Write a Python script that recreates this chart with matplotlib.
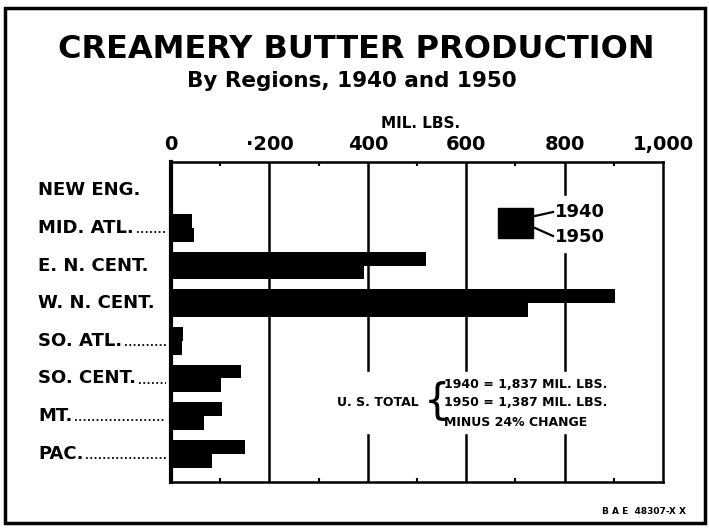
import numpy as np
import matplotlib
matplotlib.use("Agg")
import matplotlib.pyplot as plt
from matplotlib.patches import Rectangle
from matplotlib.lines import Line2D

plt.rcParams['font.family'] = ['DejaVu Sans']
plt.rcParams['font.weight'] = 'bold'

# data (million pounds)
regions = ["NEW ENG.", "MID. ATL.", "E. N. CENT.", "W. N. CENT.",
           "SO. ATL.", "SO. CENT.", "MT.", "PAC."]
prod_1940 = [5, 42, 518, 903, 25, 143, 104, 150]
prod_1950 = [4, 46, 393, 725, 22, 101, 67, 83]
leader_rows = [1, 4, 5, 6, 7]   # labels followed by dotted leaders
xticks = [0, 200, 400, 600, 800, 1000]
xtick_labels = ["0", "·200", "400", "600", "800", "1,000"]
total_lines = ["1940 = 1,837 MIL. LBS.", "1950 = 1,387 MIL. LBS.", "MINUS 24% CHANGE"]

W, H = 709, 528
fig = plt.figure(figsize=(W / 100, H / 100), dpi=100)

def fx(px):
    return px / W

def fy(py):
    return 1 - py / H

# outer frame
fig.patches.append(Rectangle((fx(5), fy(523)), fx(700), 515 / H, transform=fig.transFigure,
                             fill=False, lw=2.5, ec="black"))

ax = fig.add_axes([fx(171), fy(482), fx(663 - 171), 320 / H])
y = np.arange(len(regions))
bh = 0.37
ax.barh(y - bh / 2, prod_1940, height=bh, color="black", zorder=3)
ax.barh(y + bh / 2, prod_1950, height=bh, color="black", zorder=3)

ax.set_xlim(0, 1000)
ax.set_ylim(7.75, -0.75)
for v in [200, 400, 600, 800]:
    ax.axvline(v, color="black", lw=1.8, zorder=1)

ax.xaxis.tick_top()
ax.set_xticks(xticks)
ax.set_xticklabels(xtick_labels, fontsize=14)
ax.set_xticks([100, 300, 500, 700, 900], minor=True)
ax.tick_params(axis="x", which="major", length=0, pad=6)
ax.tick_params(axis="x", which="minor", direction="in", length=3, width=1.5,
               top=True, bottom=True)
ax.set_yticks([])
for s in ["top", "right", "bottom"]:
    ax.spines[s].set_linewidth(1.8)
ax.spines["left"].set_linewidth(3)

# category labels with dotted leaders
fig.canvas.draw()
rend = fig.canvas.get_renderer()
for i, name in enumerate(regions):
    yy = ax.transData.transform((0, i))[1] / H
    t = fig.text(fx(38), yy, name, fontsize=13, ha="left", va="center")
    if i in leader_rows:
        bb = t.get_window_extent(rend)
        fig.lines.append(Line2D([bb.x1 / W + 0.004, fx(166)], [yy - 0.008, yy - 0.008],
                                transform=fig.transFigure, color="black",
                                lw=1.3, ls=(0, (1, 1.4))))

# titles
fig.text(0.503, fy(49), "CREAMERY BUTTER PRODUCTION", fontsize=23, ha="center", va="center")
fig.text(0.496, fy(81), "By Regions, 1940 and 1950", fontsize=15.5, ha="center", va="center")
fig.text(0.593, fy(123), "MIL. LBS.", fontsize=11, ha="center", va="center")
fig.text(fx(686), fy(511), "B A E  48307-X X", fontsize=6.5, ha="right", va="center")

# legend
fig.patches.append(Rectangle((fx(490), fy(252)), fx(130), 56 / H, transform=fig.transFigure,
                             color="white", zorder=2))
fig.patches.append(Rectangle((fx(498), fy(238)), fx(35), 30 / H, transform=fig.transFigure,
                             color="black", zorder=3))
fig.lines.append(Line2D([fx(535), fx(553)], [fy(216), fy(212)], transform=fig.transFigure,
                        color="black", lw=1.6, zorder=3))
fig.lines.append(Line2D([fx(535), fx(553)], [fy(228), fy(236)], transform=fig.transFigure,
                        color="black", lw=1.6, zorder=3))
fig.text(fx(555), fy(212), "1940", fontsize=13, ha="left", va="center", zorder=4)
fig.text(fx(555), fy(237), "1950", fontsize=13, ha="left", va="center", zorder=4)

# U.S. total note
fig.patches.append(Rectangle((fx(318), fy(433)), fx(312), 61 / H, transform=fig.transFigure,
                             color="white", zorder=2))
fig.text(fx(419), fy(403), "U. S. TOTAL", fontsize=9, ha="right", va="center", zorder=4)
fig.text(fx(437), fy(402), "{", fontsize=30, ha="center", va="center", zorder=4,
         fontweight="normal")
for k, line in enumerate(total_lines):
    fig.text(fx(444), fy(384 + 19 * k), line, fontsize=9, ha="left", va="center", zorder=4)

fig.savefig("out.png", dpi=100)
